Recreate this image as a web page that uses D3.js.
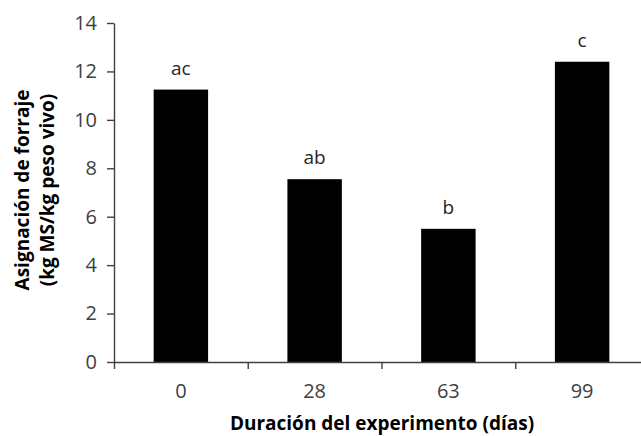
<!DOCTYPE html>
<html>
<head>
<meta charset="utf-8">
<script src="https://cdn.jsdelivr.net/npm/d3@7"></script>
<style>
  html, body { margin: 0; padding: 0; background: #fff; }
  svg { display: block; font-family: "Open Sans", Lato, sans-serif; }
</style>
</head>
<body>
<svg id="chart" width="641" height="436"></svg>
<script>
// Forage allowance by experiment duration
const days = ["0", "28", "63", "99"];
const allowance = [11.25, 7.55, 5.5, 12.4];
const groups = ["ac", "ab", "b", "c"];
const yTicks = [0, 2, 4, 6, 8, 10, 12, 14];

const svg = d3.select("#chart");
const plotLeft = 114, plotRight = 649, plotTop = 23, plotBottom = 362;
const ink = "#404040";
const face = "'Open Sans', Lato, sans-serif";

const x = d3.scaleBand()
  .domain(days)
  .range([plotLeft, plotRight])
  .paddingInner(0.593)
  .paddingOuter(0.2965);

const y = d3.scaleLinear()
  .domain([0, 14])
  .range([plotBottom, plotTop]);

// category boundaries for the x-axis tick marks
const xEdge = d3.scaleLinear().domain([0, days.length]).range([plotLeft, plotRight]);

// bars
svg.append("g")
  .selectAll("rect")
  .data(days)
  .join("rect")
  .attr("x", d => x(d))
  .attr("width", x.bandwidth())
  .attr("y", (d, i) => y(allowance[i]))
  .attr("height", (d, i) => y(0) - y(allowance[i]))
  .attr("fill", "#000");

// significance letters
svg.append("g")
  .selectAll("text")
  .data(days)
  .join("text")
  .attr("x", d => x(d) + x.bandwidth() / 2)
  .attr("y", (d, i) => y(allowance[i]) - 15)
  .attr("text-anchor", "middle")
  .attr("font-size", 19)
  .attr("fill", "#262626")
  .text((d, i) => groups[i]);

// y axis
const yAxis = svg.append("g")
  .attr("transform", `translate(${plotLeft},0)`)
  .call(d3.axisLeft(y).tickValues(yTicks).tickSize(7).tickSizeOuter(0).tickPadding(10));
yAxis.selectAll("text").attr("font-size", 20).attr("fill", ink).attr("font-family", face);
yAxis.selectAll("line, path").attr("stroke", ink).attr("stroke-width", 1.4);

// x axis: tick marks at category boundaries
const xEdges = svg.append("g")
  .attr("transform", `translate(0,${plotBottom})`)
  .call(d3.axisBottom(xEdge).tickValues(d3.range(0, days.length + 1)).tickSize(7).tickSizeOuter(0).tickFormat(""));
xEdges.selectAll("line, path").attr("stroke", ink).attr("stroke-width", 1.4);

// x axis: category labels
const xAxis = svg.append("g")
  .attr("transform", `translate(0,${plotBottom})`)
  .call(d3.axisBottom(x).tickSize(0).tickPadding(22));
xAxis.select(".domain").remove();
xAxis.selectAll("text").attr("font-size", 20).attr("fill", ink).attr("font-family", face);

// axis titles
svg.append("text")
  .attr("x", 382)
  .attr("y", 430)
  .attr("text-anchor", "middle")
  .attr("font-size", 19)
  .attr("font-weight", "bold")
  .attr("fill", "#000")
  .text("Duración del experimento (días)");

const yTitle = svg.append("text")
  .attr("transform", "translate(0,190) rotate(-90)")
  .attr("text-anchor", "middle")
  .attr("font-size", 19)
  .attr("font-weight", "bold")
  .attr("fill", "#000");
yTitle.append("tspan").attr("x", 0).attr("y", 29).text("Asignación de forraje");
yTitle.append("tspan").attr("x", 0).attr("y", 54).text("(kg MS/kg peso vivo)");
</script>
</body>
</html>
